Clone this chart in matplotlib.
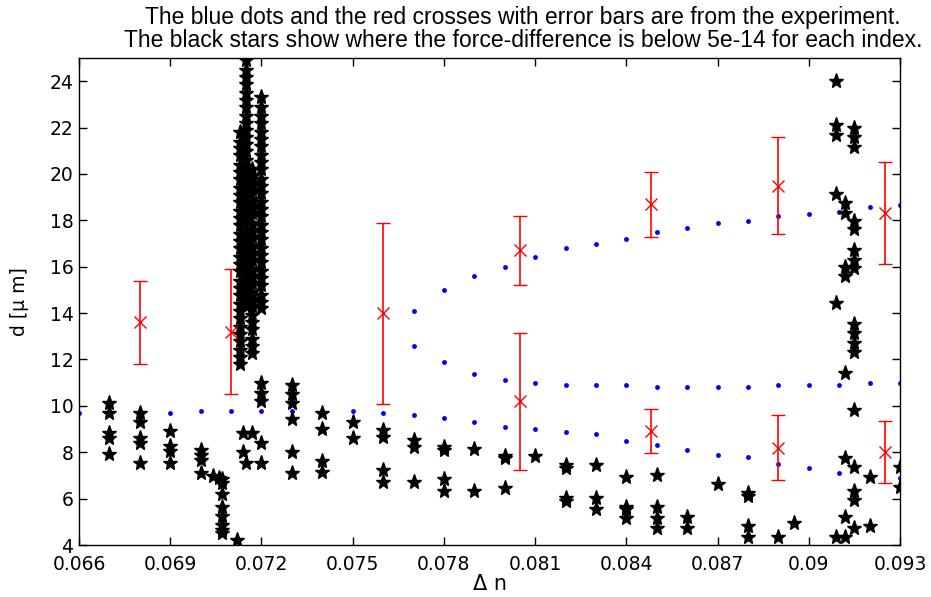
import matplotlib
matplotlib.use("Agg")
import matplotlib.pyplot as plt

# blue dots, three branches of the experiment
dn_low = [0.066, 0.067, 0.068, 0.069, 0.070, 0.071, 0.072, 0.073, 0.074, 0.075,
          0.076, 0.077, 0.078, 0.079, 0.080, 0.081, 0.082, 0.083, 0.084, 0.085,
          0.086, 0.087, 0.088, 0.089, 0.090, 0.091, 0.092, 0.093]
d_low = [9.68, 9.70, 9.70, 9.68, 9.79, 9.79, 9.79, 9.79, 9.79, 9.79,
         9.68, 9.59, 9.49, 9.29, 9.09, 8.99, 8.89, 8.78, 8.50, 8.30,
         8.09, 7.89, 7.80, 7.50, 7.30, 7.10, 7.00, 6.88]
dn_mid = [0.077, 0.078, 0.079, 0.080, 0.081, 0.082, 0.083, 0.084, 0.085,
          0.086, 0.087, 0.088, 0.089, 0.090, 0.091, 0.092, 0.093]
d_mid = [12.58, 11.89, 11.38, 11.10, 11.00, 10.90, 10.90, 10.90, 10.80,
         10.80, 10.80, 10.80, 10.90, 10.90, 10.90, 11.00, 11.00]
dn_up = [0.077, 0.078, 0.079, 0.080, 0.081, 0.082, 0.083, 0.084, 0.085,
         0.086, 0.087, 0.088, 0.089, 0.090, 0.091, 0.092, 0.093]
d_up = [14.10, 14.98, 15.58, 15.98, 16.40, 16.79, 16.99, 17.19, 17.48,
        17.68, 17.88, 17.98, 18.18, 18.28, 18.38, 18.58, 18.68]

# red crosses with error bars
err_dn = [0.068, 0.071, 0.076, 0.0805, 0.0805, 0.0848, 0.0848, 0.089, 0.089, 0.0925, 0.0925]
err_d = [13.6, 13.2, 14.0, 16.7, 10.2, 18.7, 8.9, 19.5, 8.2, 18.3, 8.0]
err_lo = [11.8, 10.5, 10.1, 15.2, 7.25, 17.3, 7.95, 17.4, 6.8, 16.1, 6.66]
err_hi = [15.4, 15.9, 17.9, 18.2, 13.15, 20.1, 9.85, 21.6, 9.6, 20.5, 9.36]

# black stars: (index, list of d where force difference < 5e-14)
star_columns = [
    (0.067, [10.13, 9.70, 8.81, 8.62, 7.91]),
    (0.068, [9.70, 9.31, 8.60, 8.41, 7.52]),
    (0.069, [8.91, 8.27, 8.05, 7.52]),
    (0.070, [8.09, 7.88, 7.66, 7.12]),
    (0.0704, [6.97]),
    (0.0706, [6.90]),
    (0.0707, [6.85, 6.69, 6.20, 5.65, 5.25, 4.86, 4.65, 4.53]),
    (0.0712, [4.22]),
    (0.0713, [11.8, 12.1, 12.4, 12.8, 13.1, 13.4, 13.8, 14.1, 14.4, 14.8, 15.1,
              15.4, 15.8, 16.1, 16.4, 16.8, 17.1, 17.4, 17.8, 18.1, 18.4, 18.8,
              19.1, 19.4, 19.8, 20.1, 20.4, 20.8, 21.1, 21.4, 21.8]),
    (0.0714, [8.02, 8.81]),
    (0.0715, [7.52, 14.3, 14.6, 15.0, 15.3, 15.6, 16.0, 16.3, 16.6, 17.0, 17.3,
              17.6, 18.0, 18.3, 18.6, 19.0, 19.3, 19.6, 20.0, 20.3, 20.6, 21.0,
              21.3, 21.6, 21.9, 22.2, 22.5, 22.9, 23.2, 23.5, 23.9, 24.2, 24.5, 24.9]),
    (0.0717, [8.81, 12.3, 12.6, 12.9, 13.3, 13.6, 13.9, 14.3, 14.6, 14.9, 15.3,
              15.6, 15.9, 16.3, 16.6, 16.9, 17.3, 17.6, 17.9, 18.3, 18.6, 18.9,
              19.3, 19.6, 19.9, 20.2]),
    (0.0720, [7.52, 8.41, 10.21, 10.57, 11.0, 14.2, 14.5, 14.8, 15.2, 15.5, 15.8,
              16.2, 16.5, 16.8, 17.2, 17.5, 17.8, 18.2, 18.5, 18.8, 19.2, 19.5,
              19.8, 20.2, 20.5, 20.8, 21.2, 21.5, 21.8, 22.2, 22.5, 22.9, 23.3]),
    (0.073, [10.90, 10.51, 10.11, 9.42, 8.02, 7.12]),
    (0.074, [9.70, 9.00, 7.63, 7.13]),
    (0.075, [9.31, 8.62]),
    (0.076, [8.96, 8.67, 7.23, 6.73]),
    (0.077, [8.53, 8.24, 6.72]),
    (0.078, [8.21, 8.09, 6.83, 6.33]),
    (0.079, [8.12, 6.33]),
    (0.080, [7.84, 7.74, 6.44]),
    (0.081, [7.84]),
    (0.082, [7.45, 7.31, 6.04, 5.90]),
    (0.083, [7.45, 6.04, 5.54]),
    (0.084, [6.92, 5.65, 5.54, 5.15]),
    (0.085, [7.02, 5.65, 5.15, 4.75]),
    (0.086, [5.22, 4.75]),
    (0.087, [6.62]),
    (0.088, [6.23, 6.11, 4.83, 4.33]),
    (0.089, [4.33]),
    (0.0895, [4.93]),
    (0.0909, [24.0, 22.1, 21.7, 19.13, 14.42, 4.36]),
    (0.0912, [18.73, 18.30, 15.99, 15.59, 11.43, 7.74, 5.22, 4.36]),
    (0.0915, [21.99, 21.58, 21.17, 17.98, 17.62, 16.72, 16.31, 15.93, 13.53,
              13.13, 12.72, 12.32, 9.82, 7.35, 6.34, 5.94, 4.75]),
    (0.0920, [6.92, 4.83]),
    (0.0930, [7.38, 6.51]),
]

star_x = [dn for dn, ds in star_columns for _ in ds]
star_y = [d for dn, ds in star_columns for d in ds]

plt.rcParams['font.family'] = ['DejaVu Sans']

fig = plt.figure(figsize=(9.31, 5.97), dpi=100)
ax = fig.add_axes([0.0849, 0.0871, 0.8818, 0.8157])

ax.plot(dn_low, d_low, 'o', color='blue', ms=3.5, mec='none')
ax.plot(dn_mid, d_mid, 'o', color='blue', ms=3.5, mec='none')
ax.plot(dn_up, d_up, 'o', color='blue', ms=3.5, mec='none')

yerr = [[m - lo for m, lo in zip(err_d, err_lo)],
        [hi - m for m, hi in zip(err_d, err_hi)]]
ax.errorbar(err_dn, err_d, yerr=yerr, fmt='x', color='red', ms=8,
            elinewidth=1.2, capsize=5.3, capthick=1.2, mew=1.0)

ax.plot(star_x, star_y, '*', color='black', ms=11, mec='black')

ax.set_xlim(0.066, 0.093)
ax.set_ylim(4, 25)
ax.set_xticks([0.066, 0.069, 0.072, 0.075, 0.078, 0.081, 0.084, 0.087, 0.09, 0.093])
ax.set_xticklabels(['0.066', '0.069', '0.072', '0.075', '0.078', '0.081',
                    '0.084', '0.087', '0.09', '0.093'])
ax.set_yticks([4, 6, 8, 10, 12, 14, 16, 18, 20, 22, 24])
ax.tick_params(direction='in', top=True, right=True, length=6, width=1,
               labelsize=13.5)
ax.tick_params(axis='x', pad=7)
ax.tick_params(axis='y', pad=4)
for s in ax.spines.values():
    s.set_linewidth(1)

ax.set_xlabel('Δ n', fontsize=15, labelpad=0)
ax.set_ylabel('d [μ m]', fontsize=13.5, labelpad=15)
fig.text(0.562, 0.952,
         'The blue dots and the red crosses with error bars are from the experiment.\n'
         'The black stars show where the force-difference is below 5e-14 for each index.',
         ha='center', va='center', fontsize=16.5,
         family=['Liberation Sans Narrow', 'Liberation Sans'], linespacing=1.0)

fig.savefig('out.png', dpi=100)
